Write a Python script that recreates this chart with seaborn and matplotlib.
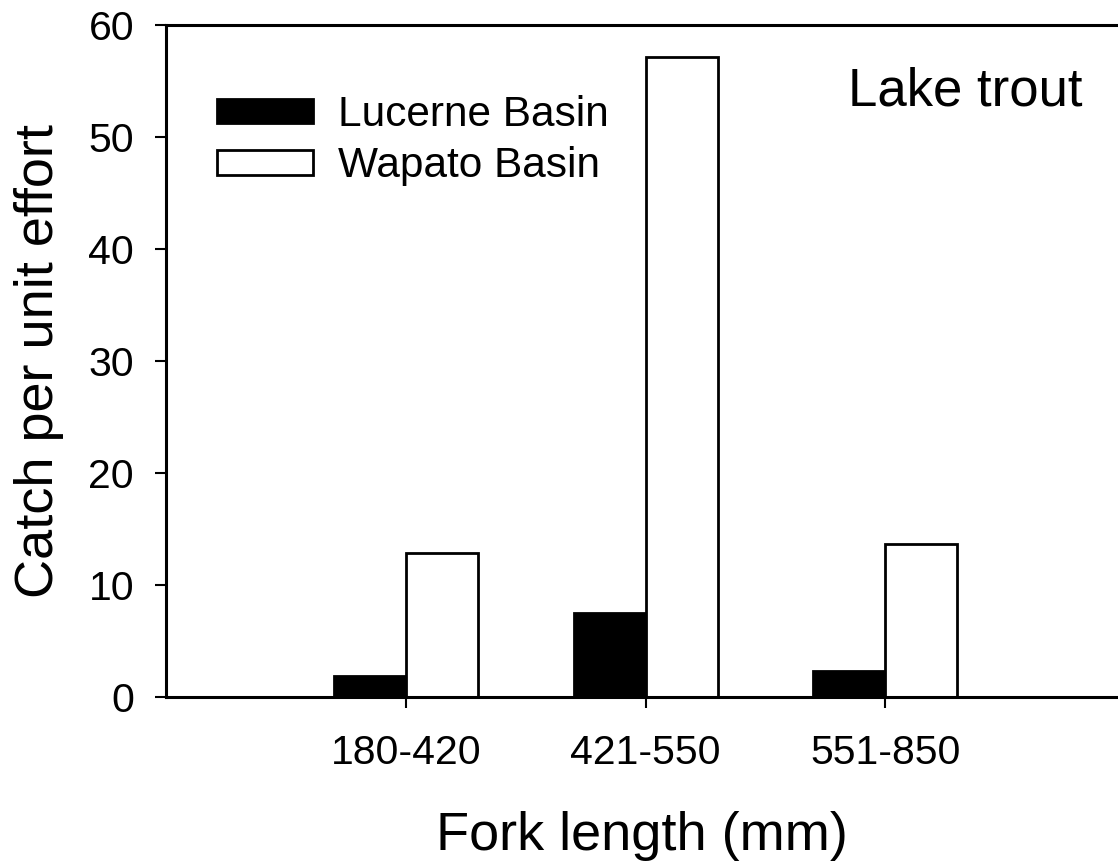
import matplotlib
matplotlib.use("Agg")
import matplotlib.pyplot as plt
import seaborn as sns
import pandas as pd

categories = ["180-420", "421-550", "551-850"]
lucerne = [1.9, 7.5, 2.3]
wapato = [12.9, 57.1, 13.7]
series_names = ["Lucerne Basin", "Wapato Basin"]

df = pd.DataFrame({
    "Fork length": categories * 2,
    "CPUE": lucerne + wapato,
    "Basin": [series_names[0]] * 3 + [series_names[1]] * 3,
})

sns.set_theme(style="ticks")
plt.rcParams["font.family"] = ["Liberation Sans", "DejaVu Sans"]

fig = plt.figure(figsize=(11.18, 8.65), dpi=100)
ax = fig.add_axes([166 / 1118, 1 - 697 / 865, 1 - 166 / 1118, (697 - 25) / 865])

sns.barplot(data=df, x="Fork length", y="CPUE", hue="Basin",
            palette={series_names[0]: "black", series_names[1]: "white"},
            edgecolor="black", linewidth=2.0, width=0.6, ax=ax,
            saturation=1)

ax.set_xlim(-1.0, 2.97)
ax.set_ylim(0, 60)
ax.set_yticks([0, 10, 20, 30, 40, 50, 60])
ax.tick_params(axis="both", direction="out", length=8, width=1.5,
               labelsize=29.5, color="black", labelcolor="black")
ax.tick_params(axis="y", pad=15)
ax.tick_params(axis="x", pad=19)
for s in ["left", "bottom", "top"]:
    ax.spines[s].set_linewidth(2.2)
    ax.spines[s].set_color("black")
ax.spines["right"].set_visible(False)

ax.set_xlabel("Fork length (mm)", fontsize=39, color="black")
ax.set_ylabel("Catch per unit effort", fontsize=39, color="black")
ax.xaxis.set_label_coords(0.5, -0.169)
ax.yaxis.set_label_coords(-0.107, 0.5)

leg = ax.legend(loc="upper left", bbox_to_anchor=(217 / 1118, 1 - 95 / 865),
                bbox_transform=fig.transFigure, frameon=False, fontsize=30.5,
                handlelength=2.27, handleheight=0.52, handletextpad=0.59,
                labelspacing=0.27, borderpad=0, borderaxespad=0)
for h in leg.legend_handles:
    h.set_edgecolor("black")
    h.set_linewidth(2.0)
for t in leg.get_texts():
    t.set_color("black")

fig.text(848 / 1118, 1 - 106 / 865, "Lake trout", fontsize=38,
         ha="left", va="baseline", color="black")

fig.savefig("out.png", dpi=100)
